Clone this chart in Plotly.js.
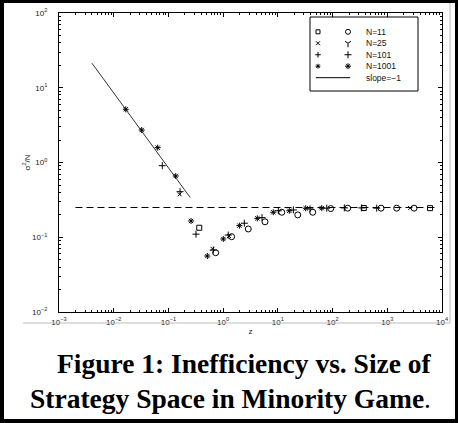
<!DOCTYPE html>
<html><head><meta charset="utf-8">
<script src="https://cdn.plot.ly/plotly-3.0.1.min.js"></script>
<style>html,body{margin:0;padding:0;background:#fff}#c{width:458px;height:423px}</style>
</head><body><div id="c"></div>
<script>
// N=1001 (asterisks)
const n1001X = [0.0166, 0.0325, 0.0637, 0.136, 0.259, 0.514, 1.007, 1.98, 4.21, 8.26, 16.2, 32.3, 63.4];
const n1001Y = [5.15, 2.72, 1.58, 0.66, 0.165, 0.0561, 0.0948, 0.143, 0.179, 0.216, 0.226, 0.244, 0.245];
// N=101 (plus)
const n101X = [0.0773, 0.163, 0.319, 0.66, 1.24, 2.44, 5.13, 10.2, 19.2, 38.7, 78.2, 164, 341, 641];
const n101Y = [0.906, 0.407, 0.110, 0.0675, 0.107, 0.154, 0.183, 0.226, 0.232, 0.239, 0.245, 0.247, 0.247, 0.245];
// N=25 (x)
const n25X = [0.16, 0.64, 1.28, 2621];
const n25Y = [0.375, 0.070, 0.104, 0.246];
// N=11 (circles and squares)
const n11cX = [0.73, 1.43, 2.88, 5.82, 11.8, 23.1, 43.4, 92.5, 189, 769, 1486, 3083];
const n11cY = [0.0621, 0.1017, 0.129, 0.161, 0.216, 0.199, 0.216, 0.242, 0.245, 0.245, 0.245, 0.245];
const n11sX = [0.366, 372, 6040];
const n11sY = [0.134, 0.246, 0.245];
// reference lines
const slopeX = [0.004, 0.25];
const slopeY = [21.3, 0.34];
const flatX = [0.002, 8000];
const flatY = [0.25, 0.25];
// legend content
const legLabels = ["N=11", "N=25", "N=101", "N=1001", "slope=\u22121"];
const legSym1 = ["square-open", "x-thin-open", "cross-thin-open", "asterisk-open"];
const legSym2 = ["circle-open", "y-down-open", "cross-thin-open", "asterisk-open"];
// tick labels
const xTicks = [0.001, 0.01, 0.1, 1, 10, 100, 1000, 10000];
const xTickText = ["10<sup>\u22123</sup>", "10<sup>\u22122</sup>", "10<sup>\u22121</sup>", "10<sup>0</sup>", "10<sup>1</sup>", "10<sup>2</sup>", "10<sup>3</sup>", "10<sup>4</sup>"];
const yTicks = [0.01, 0.1, 1, 10, 100];
const yTickText = ["10<sup>\u22122</sup>", "10<sup>\u22121</sup>", "10<sup>0</sup>", "10<sup>1</sup>", "10<sup>2</sup>"];

const mk = (sym, size) => ({symbol: sym, size: size, color: '#000', line: {color: '#000', width: 1}});
const traces = [
  {x: flatX, y: flatY, mode: 'lines', line: {color: '#000', width: 1, dash: '7px,4px'}, hoverinfo: 'skip'},
  {x: slopeX, y: slopeY, mode: 'lines', line: {color: '#333', width: 1}},
  {x: n1001X, y: n1001Y, mode: 'markers', marker: mk('asterisk-open', 5)},
  {x: n101X, y: n101Y, mode: 'markers', marker: mk('cross-thin-open', 5)},
  {x: n25X, y: n25Y, mode: 'markers', marker: mk('x-thin-open', 4)},
  {x: n11cX, y: n11cY, mode: 'markers', marker: mk('circle-open', 6)},
  {x: n11sX, y: n11sY, mode: 'markers', marker: mk('square-open', 5)}
];
// legend markers on an auxiliary axis
const rowY = legLabels.map((_, i) => 0.80 - i * 0.155);
const lx1 = 0.074, lx2 = 0.352, ltx = 0.50;
traces.push({x: legSym1.map(() => lx1), y: rowY.slice(0, 4), xaxis: 'x2', yaxis: 'y2', mode: 'markers',
  marker: {symbol: legSym1, size: 4, color: '#000', line: {color: '#000', width: 1}}});
traces.push({x: legSym2.map(() => lx2), y: rowY.slice(0, 4), xaxis: 'x2', yaxis: 'y2', mode: 'markers',
  marker: {symbol: legSym2, size: 5, color: '#000', line: {color: '#000', width: 1}}});
traces.push({x: [lx1 - 0.02, lx2 + 0.02], y: [rowY[4], rowY[4]], xaxis: 'x2', yaxis: 'y2', mode: 'lines',
  line: {color: '#000', width: 1}});

const W = 458, H = 423, L = 59, R = 442, T = 13, B = 312;
const px = v => (v - L) / (R - L);
const py = v => (B - v) / (B - T);

const annotations = legLabels.map((t, i) => ({x: ltx, y: rowY[i], xref: 'x2', yref: 'y2', text: t,
  showarrow: false, xanchor: 'left', yanchor: 'middle', font: {family: 'Liberation Sans, Arial', size: 8.5, color: '#111'}}));
annotations.push({x: px(244), y: py(363), xref: 'paper', yref: 'paper', showarrow: false,
  text: '<b>Figure 1: Inefficiency vs. Size of</b>', xanchor: 'center', yanchor: 'middle',
  font: {family: 'Liberation Serif, Times New Roman', size: 27.5, color: '#000'}});
annotations.push({x: px(230), y: py(398), xref: 'paper', yref: 'paper', showarrow: false,
  text: '<b>Strategy Space in Minority Game</b>.', xanchor: 'center', yanchor: 'middle',
  font: {family: 'Liberation Serif, Times New Roman', size: 27.5, color: '#000'}});

const shapes = [
  {type: 'rect', xref: 'paper', yref: 'paper', x0: px(310), x1: px(418), y0: py(91), y1: py(17), line: {color: '#000', width: 1}, fillcolor: 'rgba(0,0,0,0)'},
  {type: 'line', xref: 'paper', yref: 'paper', x0: px(450), x1: px(450), y0: py(3), y1: py(323), line: {color: '#bbb', width: 1}},
  {type: 'line', xref: 'paper', yref: 'paper', x0: px(23), x1: px(450), y0: py(323), y1: py(323), line: {color: '#bbb', width: 1}},
  {type: 'rect', xref: 'paper', yref: 'paper', x0: px(0), x1: px(4), y0: py(423), y1: py(0), fillcolor: '#000', line: {width: 0}},
  {type: 'rect', xref: 'paper', yref: 'paper', x0: px(0), x1: px(458), y0: py(3), y1: py(0), fillcolor: '#000', line: {width: 0}},
  {type: 'rect', xref: 'paper', yref: 'paper', x0: px(455), x1: px(458), y0: py(423), y1: py(0), fillcolor: '#000', line: {width: 0}},
  {type: 'rect', xref: 'paper', yref: 'paper', x0: px(0), x1: px(458), y0: py(423), y1: py(419), fillcolor: '#000', line: {width: 0}}
];

const tickFont = {family: 'Liberation Sans, Arial', size: 8, color: '#222'};
const axisCommon = {type: 'log', tickmode: 'array', ticks: 'inside', ticklen: 4, tickcolor: '#000',
  showline: true, linecolor: '#000', linewidth: 1, mirror: 'allticks', showgrid: false, zeroline: false,
  tickfont: tickFont, minor: {ticks: 'inside', ticklen: 2, tickcolor: '#000', showgrid: false, dtick: 'D1'}};
const layout = {
  width: W, height: H,
  margin: {l: L, r: W - R, t: T, b: H - B, pad: 0},
  paper_bgcolor: '#fff', plot_bgcolor: '#fff',
  showlegend: false,
  xaxis: Object.assign({}, axisCommon, {range: [-3, 4], tickvals: xTicks, ticktext: xTickText, ticklabelstandoff: 2,
    title: {text: 'z', font: {family: 'Liberation Sans, Arial', size: 8, color: '#222'}, standoff: 2}}),
  yaxis: Object.assign({}, axisCommon, {range: [-2, 2], tickvals: yTicks, ticktext: yTickText, ticklabelstandoff: 9,
    title: {text: '\u03c3<sup>2</sup>/N', font: {family: 'Liberation Sans, Arial', size: 8, color: '#222'}, standoff: 0}}),
  xaxis2: {domain: [px(310), px(418)], range: [0, 1], visible: false, fixedrange: true, anchor: 'y2'},
  yaxis2: {domain: [py(91), py(17)], range: [0, 1], visible: false, fixedrange: true, anchor: 'x2'},
  annotations: annotations,
  shapes: shapes
};
Plotly.newPlot('c', traces, layout, {displayModeBar: false, staticPlot: true});
</script></body></html>
